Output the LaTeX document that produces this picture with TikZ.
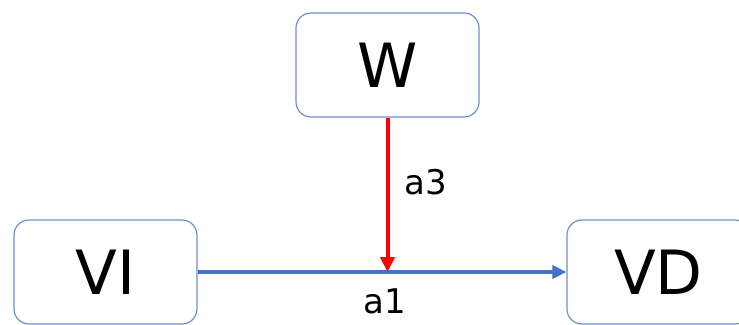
\documentclass[tikz,border=0pt]{standalone}
\usepackage{fontspec}
\setmainfont{DejaVu Sans}
\usetikzlibrary{arrows.meta}
\definecolor{boxline}{RGB}{111,143,201}
\definecolor{pathblue}{RGB}{68,114,196}
\tikzset{
  var/.style={draw=boxline, line width=1.2pt, rounded corners=15pt,
    minimum width=183pt, minimum height=104pt, font=\fontsize{61}{64}\selectfont},
  lab/.style={text=black, font=\fontsize{34}{38}\selectfont}
}
\begin{document}
\begin{tikzpicture}[x=1pt,y=-1pt]
  \clip (0,0) rectangle (739,324);
  \node[var] (W) at (387.5,65) {W};
  \node[var] (VI) at (105.5,272) {VI};
  \node[var] (VD) at (658.5,272) {VD};
  \coordinate (m) at (W |- VI);
  \draw[pathblue, line width=3.5pt, -{Triangle[length=14pt,width=13pt]}] (VI) -- (VD)
    node[midway, below, lab, yshift=-12pt, xshift=3pt]{a1};
  \draw[red, line width=4pt, -{Triangle[length=15pt,width=14pt]}] (W) -- (m)
    node[pos=0.42, right, lab, xshift=12pt]{a3};
\end{tikzpicture}
\end{document}
